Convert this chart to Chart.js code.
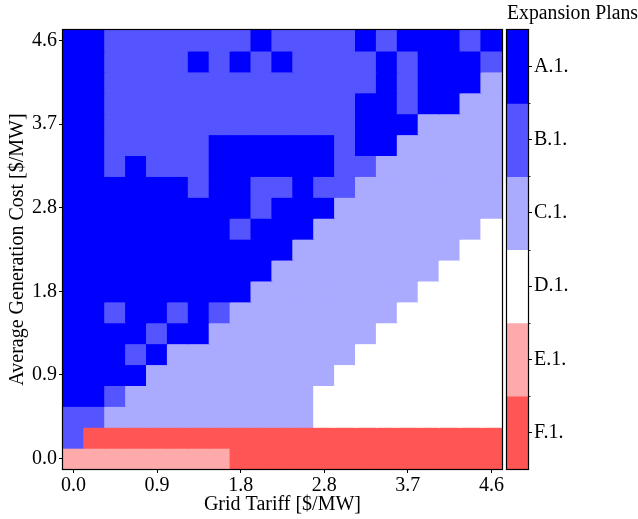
<!DOCTYPE html>
<html><head><meta charset="utf-8">
<script src="https://cdn.jsdelivr.net/npm/chart.js@4/dist/chart.umd.min.js"></script>
<style>
html,body{margin:0;padding:0;background:#fff;}
#wrap{position:relative;width:638px;height:519px;overflow:hidden;}
#main{position:absolute;left:0;top:0;width:505px;height:519px;}
#cbar{position:absolute;left:500px;top:0;width:138px;height:519px;}
</style></head><body>
<div id="wrap">
<canvas id="main" width="505" height="519"></canvas>
<canvas id="cbar" width="138" height="519"></canvas>
</div>
<script>
// Grid tariff values (x categories, $/MW)
const gridTariffs = [0.00,0.23,0.46,0.69,0.92,1.15,1.38,1.61,1.84,2.07,2.30,2.53,2.76,2.99,3.22,3.45,3.68,3.91,4.14,4.37,4.60];
// Average generation cost values (y, $/MW), bottom to top
const genCosts = [0.00,0.23,0.46,0.69,0.92,1.15,1.38,1.61,1.84,2.07,2.30,2.53,2.76,2.99,3.22,3.45,3.68,3.91,4.14,4.37,4.60];
// Tick positions (indices into the value lists)
const tickIndices = [0,4,8,12,16,20];
// Expansion plan names and colours
const planCodes = ['A','B','C','D','E','F'];
const planLabels = ['A.1.','B.1.','C.1.','D.1.','E.1.','F.1.'];
const planColors = ['#0000ff','#5555ff','#aaaaff','#ffffff','#ffaaaa','#ff5555'];
// Chosen plan per cell; first string = highest generation cost (4.6), columns follow gridTariffs
const planGrid = [
  "AABBBBBBBABBBBABAAABA",
  "AABBBBABABABBBBABAAAB",
  "AABBBBBBBBBBBBBABAAAC",
  "AABBBBBBBBBBBBAABAACC",
  "AABBBBBBBBBBBBAAACCCC",
  "AABBBBBAAAAAABAACCCCC",
  "AABABBBAAAAAABBCCCCCC",
  "AAAAAABAABBABBCCCCCCC",
  "AAAAAAAAABAAACCCCCCCC",
  "AAAAAAAABAAACCCCCCCCD",
  "AAAAAAAAAAACCCCCCCCDD",
  "AAAAAAAAAACCCCCCCCDDD",
  "AAAAAAAAACCCCCCCCDDDD",
  "AABAABABCCCCCCCCDDDDD",
  "AAAABAACCCCCCCCDDDDDD",
  "AAABACCCCCCCCCDDDDDDD",
  "AAAACCCCCCCCCDDDDDDDD",
  "AABCCCCCCCCCDDDDDDDDD",
  "BBCCCCCCCCCCDDDDDDDDD",
  "BFFFFFFFFFFFFFFFFFFFF",
  "EEEEEEEEFFFFFFFFFFFFF"
];

const FONT = '"Liberation Serif", "Times New Roman", "DejaVu Serif", serif';
const FS = 20;
const half = (genCosts[1] - genCosts[0]) / 2;
const nRows = planGrid.length;

const datasets = planGrid.map((row, r) => {
  const gc = genCosts[nRows - 1 - r];
  return {
    data: gridTariffs.map(() => [gc - half, gc + half]),
    backgroundColor: row.split('').map(ch => planColors[planCodes.indexOf(ch)]),
    borderWidth: 0,
    inflateAmount: 0.6
  };
});

const framePlugin = {
  id: 'frame',
  afterDatasetsDraw(chart) {
    const a = chart.chartArea, ctx = chart.ctx;
    ctx.save();
    ctx.strokeStyle = '#000';
    ctx.lineWidth = 1.2;
    ctx.strokeRect(Math.round(a.left) - 0.5, Math.round(a.top) - 0.5,
                   Math.round(a.right - a.left) + 1, Math.round(a.bottom - a.top) + 1);
    ctx.restore();
  }
};

new Chart(document.getElementById('main'), {
  type: 'bar',
  data: { labels: gridTariffs.map(v => v.toFixed(2)), datasets },
  options: {
    responsive: false,
    animation: false,
    devicePixelRatio: 1,
    layout: { padding: { top: 30, right: 2, left: 0, bottom: 0 } },
    plugins: { legend: { display: false }, tooltip: { enabled: false } },
    datasets: { bar: { barPercentage: 1, categoryPercentage: 1, grouped: false } },
    scales: {
      x: {
        type: 'category',
        offset: true,
        grid: { display: true, drawOnChartArea: false, offset: false, tickLength: 4, color: '#000', tickColor: '#000', tickWidth: 1 },
        border: { display: false },
        afterBuildTicks: s => { s.ticks = s.ticks.filter(t => tickIndices.includes(t.value)); },
        afterFit: s => { s.height = 50; },
        ticks: {
          autoSkip: false, maxRotation: 0, color: '#000', padding: 1,
          font: { family: FONT, size: FS },
          callback: v => gridTariffs[v].toFixed(1)
        },
        title: { display: true, text: 'Grid Tariff [$/MW]', color: '#000', font: { family: FONT, size: FS }, padding: { top: 0, bottom: 2 } }
      },
      y: {
        type: 'linear',
        min: genCosts[0] - half,
        max: genCosts[genCosts.length - 1] + half,
        grid: { display: true, drawOnChartArea: false, tickLength: 4, color: '#000', tickColor: '#000', tickWidth: 1 },
        border: { display: false },
        afterBuildTicks: s => { s.ticks = tickIndices.map(i => ({ value: genCosts[i] })); },
        afterFit: s => { s.width = 63; },
        ticks: {
          color: '#000', padding: 2,
          font: { family: FONT, size: FS },
          callback: v => v.toFixed(1)
        },
        title: { display: true, text: 'Average Generation Cost [$/MW]', color: '#000', font: { family: FONT, size: FS }, padding: { top: 6, bottom: 0 } }
      }
    }
  },
  plugins: [framePlugin]
});

// Colorbar
const boundaryTicks = {
  id: 'boundaryTicks',
  afterDraw(chart) {
    const y = chart.scales.y, a = chart.chartArea, ctx = chart.ctx;
    ctx.save();
    ctx.strokeStyle = '#000';
    ctx.lineWidth = 0.8;
    for (let k = 1; k < planLabels.length; k++) {
      const py = Math.round(y.getPixelForValue(k)) + 0.5;
      ctx.beginPath();
      ctx.moveTo(a.right, py);
      ctx.lineTo(a.right + 2.5, py);
      ctx.stroke();
    }
    ctx.restore();
  }
};

new Chart(document.getElementById('cbar'), {
  type: 'bar',
  data: {
    labels: [''],
    datasets: planLabels.map((p, i) => ({
      label: p,
      data: [[i, i + 1]],
      backgroundColor: planColors[i],
      borderWidth: 0,
      inflateAmount: 0.6
    }))
  },
  options: {
    responsive: false,
    animation: false,
    devicePixelRatio: 1,
    layout: { padding: { top: 0, right: 0, left: 7, bottom: 50 } },
    plugins: {
      legend: { display: false }, tooltip: { enabled: false },
      title: { display: true, text: 'Expansion Plans', color: '#000', font: { family: FONT, size: FS, weight: 'normal' }, padding: { top: 2, bottom: 4 } }
    },
    datasets: { bar: { barPercentage: 1, categoryPercentage: 1, grouped: false } },
    scales: {
      x: { display: false, offset: true },
      y: {
        type: 'linear', position: 'right', reverse: true, min: 0, max: planLabels.length,
        grid: { display: true, drawOnChartArea: false, tickLength: 4, color: '#000', tickColor: '#000', tickWidth: 1 },
        border: { display: false },
        afterBuildTicks: s => { s.ticks = planLabels.map((p, i) => ({ value: i + 0.5 })); },
        afterFit: s => { s.width = 110; },
        ticks: { color: '#000', padding: 2, font: { family: FONT, size: FS }, callback: (v, i) => planLabels[i] }
      }
    }
  },
  plugins: [framePlugin, boundaryTicks]
});
</script>
</body></html>
